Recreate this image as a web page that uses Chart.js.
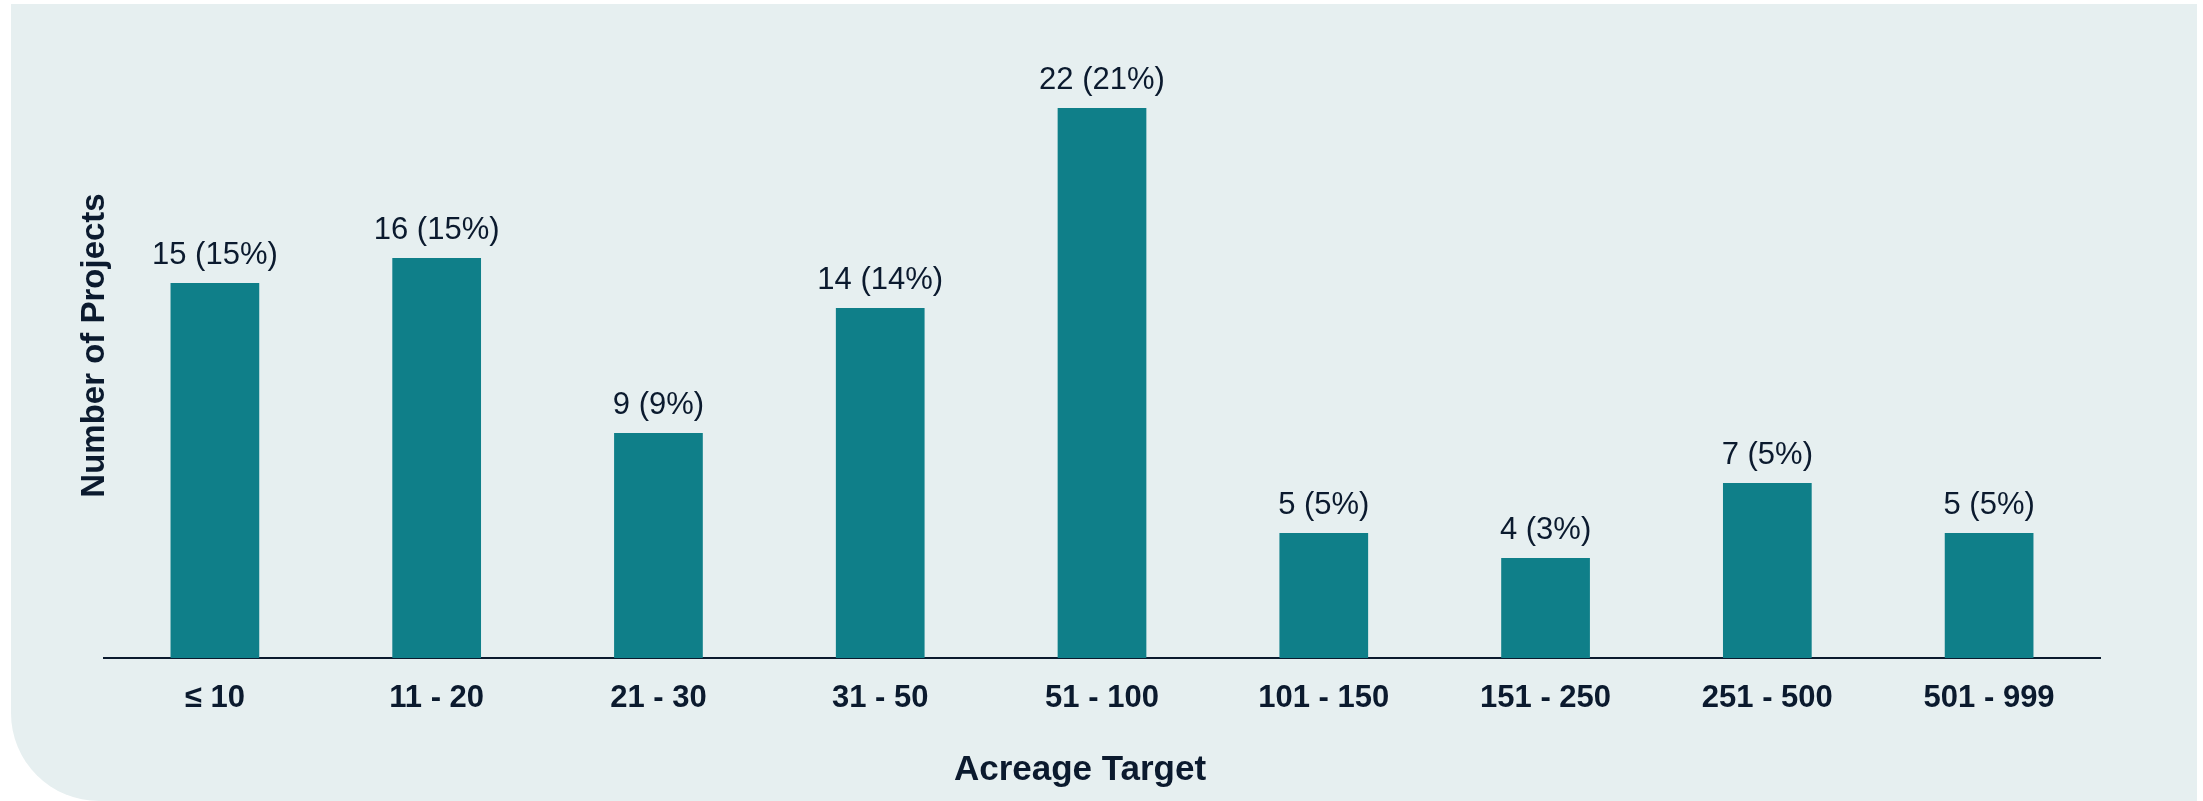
<!DOCTYPE html>
<html>
<head>
<meta charset="utf-8">
<script src="https://cdn.jsdelivr.net/npm/chart.js@4/dist/chart.umd.min.js"></script>
<style>
  html, body { margin: 0; padding: 0; background: #fff; }
  .panel {
    position: absolute; left: 11px; top: 4px; width: 2186px; height: 797px;
    background: #e6eff0; border-bottom-left-radius: 88px;
  }
  #chart { position: absolute; left: 0; top: 0; }
</style>
</head>
<body>
<div class="panel"></div>
<canvas id="chart" width="2203" height="801"></canvas>
<script>
const categories = ['≤ 10', '11 - 20', '21 - 30', '31 - 50', '51 - 100', '101 - 150', '151 - 250', '251 - 500', '501 - 999'];
const projectCounts = [15, 16, 9, 14, 22, 5, 4, 7, 5];
const projectShares = [15, 15, 9, 14, 21, 5, 3, 5, 5];

const textColor = '#0b1a2e';
const font = "'Liberation Sans', Arial, sans-serif";

// labels above each bar: "count (share%)", plus the x axis title (sits a bit left of centre)
const barLabels = {
  id: 'barLabels',
  afterDatasetsDraw(chart) {
    const { ctx, chartArea } = chart;
    const meta = chart.getDatasetMeta(0);
    ctx.save();
    ctx.font = '31px ' + font;
    ctx.fillStyle = textColor;
    ctx.textAlign = 'center';
    ctx.textBaseline = 'middle';
    meta.data.forEach((bar, i) => {
      ctx.fillText(projectCounts[i] + ' (' + projectShares[i] + '%)', bar.x, bar.y - 28);
    });
    ctx.font = 'bold 35px ' + font;
    ctx.fillText('Acreage Target', (chartArea.left + chartArea.right) / 2 - 22, chartArea.bottom + 112);
    ctx.restore();
  }
};

new Chart(document.getElementById('chart'), {
  type: 'bar',
  data: {
    labels: categories,
    datasets: [{
      data: projectCounts,
      backgroundColor: '#0f7f89',
      barPercentage: 0.4,
      categoryPercentage: 1,
    }]
  },
  options: {
    responsive: false,
    animation: false,
    layout: { padding: { top: 33, right: 103, left: 0, bottom: 0 } },
    plugins: { legend: { display: false }, tooltip: { enabled: false } },
    scales: {
      x: {
        grid: { display: false, drawTicks: false },
        border: { display: true, color: textColor, width: 2 },
        ticks: { color: textColor, padding: 22, font: { family: font, size: 31, weight: 'bold' } },
        afterFit: (scale) => { scale.height = 143; }
      },
      y: {
        min: 0, max: 25,
        grid: { display: false, drawTicks: false },
        border: { display: false },
        ticks: { display: false },
        title: {
          display: true, text: 'Number of Projects', color: textColor,
          font: { family: font, size: 33, weight: 'bold' }, padding: { top: 75, bottom: 0 }
        },
        afterFit: (scale) => { scale.width = 104; }
      }
    }
  },
  plugins: [barLabels]
});
</script>
</body>
</html>
